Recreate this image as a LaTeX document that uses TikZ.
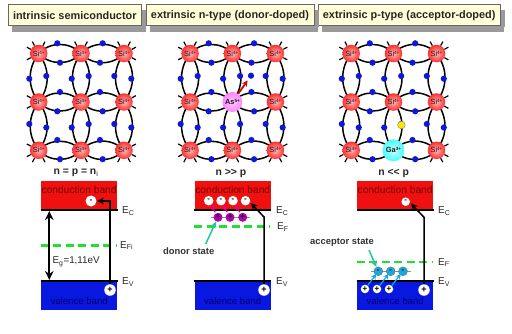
\documentclass[tikz,border=0pt]{standalone}
\usepackage{fontspec}
\setmainfont{Liberation Sans}
\usetikzlibrary{arrows.meta,backgrounds,calc}
\definecolor{hdrfill}{HTML}{FFFFD8}
\definecolor{shadowgrey}{HTML}{9A9A9A}
\definecolor{bandred}{HTML}{F01010}
\definecolor{bandblue}{HTML}{0818E0}
\definecolor{bonddot}{HTML}{1018D8}
\definecolor{fermi}{HTML}{20E030}
\definecolor{teal}{HTML}{20C8A0}
\definecolor{valtext}{HTML}{000070}
\newcommand\chg[1]{\raisebox{2pt}{\fontsize{4.6}{5}\selectfont #1}}
\tikzset{
  x=1pt,y=-1pt,
  header/.style={draw=black!60,line width=.7pt,fill=hdrfill,inner sep=0pt,minimum height=21pt,
    font=\fontsize{10.9}{12}\selectfont\bfseries,text=black!85},
  hshadow/.style={fill=shadowgrey,draw=none,inner sep=0pt,anchor=north west},
  si/.style={circle,draw=none,inner sep=0pt,minimum size=17.5pt,
    inner color=red!28!white,outer color=red!82,
    font=\fontsize{7.4}{8}\selectfont,text=black!90},
  arsenic/.style={circle,draw=none,inner sep=0pt,minimum size=20pt,
    inner color=magenta!22!white,outer color=magenta!48!white,
    font=\fontsize{7.4}{8}\selectfont\bfseries,text=black!90},
  gallium/.style={circle,draw=none,inner sep=0pt,minimum size=22pt,
    inner color=cyan!22!white,outer color=cyan!72!white,
    font=\fontsize{7.4}{8}\selectfont\bfseries,text=black!90},
  bond/.style={draw=black,line width=1.5pt},
  spike/.style={draw=black,line width=1.2pt},
  bdot/.style={circle,fill=bonddot,inner sep=0pt,minimum size=6.2pt},
  cond/.style={draw=none,fill=bandred,inner sep=0pt,minimum width=76.5pt,minimum height=30.5pt},
  val/.style={draw=none,fill=bandblue,inner sep=0pt,minimum width=76.5pt,minimum height=30.5pt},
  condlabel/.style={font=\fontsize{10.2}{12}\selectfont,text=red!45!black,inner sep=0pt},
  vallabel/.style={font=\fontsize{9.6}{12}\selectfont,text=valtext,inner sep=0pt},
  edge/.style={draw=black,line width=2pt},
  level/.style={draw=fermi,line width=2.6pt,dash pattern=on 8pt off 4.5pt},
  elec/.style={circle,fill=white,inner sep=0pt,minimum size=#1,font=\fontsize{8}{8}\selectfont\bfseries,text=black},
  hole/.style={circle,fill=white,inner sep=0pt,minimum size=#1,font=\fontsize{9}{9}\selectfont\bfseries,text=black},
  eng/.style={font=\fontsize{10}{12}\selectfont,inner sep=0pt,anchor=west,text=black!85},
  carrier/.style={font=\fontsize{10.4}{12}\selectfont\bfseries,inner sep=0pt,text=black!85},
  note/.style={font=\fontsize{9.4}{12}\selectfont\bfseries,inner sep=0pt,text=black!80},
  transit/.style={draw=black,line width=1.5pt,-{Stealth[length=7pt,width=6.5pt]}},
  state/.style={draw=black!45,line width=.6pt},
  donor/.style={circle,fill=violet!60!magenta,inner sep=0pt,minimum size=9pt,font=\fontsize{8.5}{8}\selectfont\bfseries,text=black},
  acceptor/.style={circle,draw=black!60,line width=.3pt,fill=cyan!70!teal,inner sep=0pt,minimum size=9pt,font=\fontsize{8}{8}\selectfont\bfseries,text=black},
  pointer/.style={draw=teal,line width=1.5pt,-{Stealth[length=6pt,width=5.5pt]}},
}
% Silicon lattice: #1 name prefix, #2 horizontal shift, #3 replaced site (row and column digits),
% #4 style of that site, #5 its label
\newcommand\crystal[5]{%
  \begin{scope}[xshift=#2pt]
    \foreach \r/\y in {1/53.5,2/102,3/150.3}{
      \foreach \c/\x in {1/38.7,2/81,3/124}{
        \ifnum\r\c=#3\relax
          \node[#4] (#1\r\c) at (\x,\y) {#5};
        \else
          \node[si] (#1\r\c) at (\x,\y) {Si\chg{4+}};
          \ifnum\r=1 \foreach \a in {62,118}{\draw[spike] (#1\r\c.\a) -- ++(\a:4.5pt);}\fi
          \ifnum\r=3 \foreach \a in {242,298}{\draw[spike] (#1\r\c.\a) -- ++(\a:4.5pt);}\fi
          \ifnum\c=1 \foreach \a in {152,208}{\draw[spike] (#1\r\c.\a) -- ++(\a:4.5pt);}\fi
          \ifnum\c=3 \foreach \a in {28,332}{\draw[spike] (#1\r\c.\a) -- ++(\a:4.5pt);}\fi
        \fi
      }
    }
    \begin{scope}[on background layer]
      \foreach \r in {1,2,3}{
        \draw[bond] (#1\r1.center) to[bend left=47] (#1\r2.center) to[bend left=47] (#1\r1.center);
        \draw[bond] (#1\r2.center) to[bend left=47] (#1\r3.center) to[bend left=47] (#1\r2.center);
      }
      \foreach \c in {1,2,3}{
        \draw[bond] (#11\c.center) to[bend left=37] (#12\c.center) to[bend left=37] (#11\c.center);
        \draw[bond] (#12\c.center) to[bend left=37] (#13\c.center) to[bend left=37] (#12\c.center);
      }
    \end{scope}
    \foreach \px/\py [count=\i] in {
      57.3/43.3,60/62.7,102.7/43.3,100/62.7,
      29.3/78.7,46.3/76,71.7/78.7,88.7/76,114.3/76,131.3/78.7,
      60/92,57.3/111.3,100/92,102.7/111.3,
      29.3/124,46.3/127.5,71.7/127.5,88.7/124,114.3/124,131.3/127.5,
      57.3/140,60/159.2,100/140,102.7/159.2}{
      \node[bdot] (#1d\i) at (\px,\py) {};
    }
  \end{scope}
}
% Energy band pair: #1 name suffix, #2 left edge of the bands
\newcommand\bandpair[2]{%
  \node[cond,anchor=north west] (cb#1) at (#2,180.3) {};
  \node[val,anchor=north west] (vb#1) at (#2,279.7) {};
  \draw[edge] ($(cb#1.south west)+(0,1pt)$) -- ($(cb#1.south east)+(0,1pt)$);
  \draw[edge] ($(vb#1.north west)+(0,-1pt)$) -- ($(vb#1.north east)+(0,-1pt)$);
  \node[condlabel] (cbt#1) at ($(cb#1.north)+(0,-9.7pt)$) {conduction band};
  \node[vallabel] (vbt#1) at ($(vb#1.north)+(0,-21.3pt)$) {valence band};
}
% Offset shadow of a heading, as a strip below and a strip to the right: #1 heading name, #2 its width
\newcommand\headshadow[2]{%
  \node[hshadow,minimum width=#2pt,minimum height=6pt] (#1b) at ($(#1.south west)+(4pt,.3pt)$) {};
  \node[hshadow,minimum width=4.2pt,minimum height=16.5pt] (#1r) at ($(#1.north east)+(0pt,-5.5pt)$) {};
}
\begin{document}
\begin{tikzpicture}
\useasboundingbox (0,0) rectangle (512,333);

% Column headings
\node[header,minimum width=133.7pt] (h1) at (74.8,15.3) {intrinsic semiconductor};
\node[header,minimum width=168pt] (h2) at (230,15.3) {extrinsic n-type (donor-doped)};
\node[header,minimum width=181.7pt] (h3) at (409.2,15.3) {extrinsic p-type (acceptor-doped)};

% Crystal lattices
\crystal{a}{0}{0}{si}{}
\crystal{b}{151.4}{22}{arsenic}{As\chg{5+}}
\crystal{c}{312.5}{32}{gallium}{Ga\chg{3+}}

% Freed electron at the arsenic site
\node[bdot] (free) at (251,75.7) {};
\draw[draw=red!85!black,line width=1.8pt,-{Stealth[length=6pt,width=6pt]},shorten >=2.5pt] (b22) -- (free);
% Missing electron at the gallium site
\node[circle,draw=black!50,line width=.4pt,fill=yellow!90!orange,inner sep=0pt,minimum size=7.6pt] (gap) at (401.4,125) {};

% Carrier relations
\node[carrier] (n1) at (76,173) {n = p = n$_{\mathrm i}$};
\node[carrier] (n2) at (231,173) {n >{}> p};
\node[carrier] (n3) at (393.7,173) {n <{}< p};

% Intrinsic bands
\bandpair{1}{40.7}
\draw[level] (40.7,245.3) -- (117,245.3);
\coordinate (gt) at (49.3,211);
\coordinate (gb) at (49.3,280);
\draw[draw=black,line width=1.7pt,{Stealth[length=9pt,width=8.5pt]}-{Stealth[length=9pt,width=8.5pt]}] (gt) -- (gb);
\node[eng,font=\fontsize{9.8}{12}\selectfont] (eg) at (52.5,261.7) {E$_{\mathrm g}$=1,11eV};
\node[elec=11pt] (e1) at (91,201) {-};
\node[hole=11.5pt] (p1) at (110,290) {+};
\draw[transit] (p1.north) |- (e1.east);
\node[eng] (ec1) at (122,211) {E$_{\mathrm C}$};
\node[eng] (ef1) at (120,245.5) {E$_{\mathrm{Fi}}$};
\node[eng] (ev1) at (122,282) {E$_{\mathrm V}$};

% Donor-doped bands
\bandpair{2}{194.3}
\draw[level] (194.3,226.7) -- (270,226.7);
\coordinate (sl) at (210.7,217.3);
\coordinate (sr) at (250,217.3);
\draw[state] (sl) -- (sr);
\foreach \i/\x in {1/208.7,2/221,3/233,4/245.5}{\node[elec=9.5pt] (en\i) at (\x,200.7) {-};}
\foreach \i/\x in {1/218,2/230,3/242.7}{\node[donor] (dn\i) at (\x,217.3) {+};}
\foreach \i in {1,2,3}{\draw[draw=magenta,line width=1.2pt,-{Stealth[length=5pt,width=5pt]},shorten <=1pt,shorten >=0.5pt] (dn\i) -- (en\i);}
\node[hole=11.5pt] (p2) at (264,290) {+};
\coordinate (k2) at (264,217);
\coordinate (t2) at (250.7,203);
\draw[transit] (p2.north) -- (k2) -- (t2);
\node[note] (dst) at (188.7,250.7) {donor state};
\coordinate (ds0) at (205.7,244);
\draw[pointer] (ds0) -- (dn1);
\node[eng] (ec2) at (276,211) {E$_{\mathrm C}$};
\node[eng] (ef2) at (277,227) {E$_{\mathrm F}$};
\node[eng] (ev2) at (276,282) {E$_{\mathrm V}$};

% Acceptor-doped bands
\bandpair{3}{356.7}
\draw[level] (356.7,262) -- (432,262);
\coordinate (ql) at (370.7,271.3);
\coordinate (qr) at (411,271.3);
\draw[state] (ql) -- (qr);
\foreach \i/\x in {1/378.3,2/390.7,3/403}{\node[acceptor] (an\i) at (\x,271.3) {-};}
\foreach \i/\x in {1/365,2/377,3/389}{
  \node[hole=8.5pt,font=\fontsize{8}{8}\selectfont\bfseries] (ph\i) at (\x,289) {+};
  \draw[draw=cyan!75!teal,line width=1.2pt,-{Stealth[length=5pt,width=5.5pt]},shorten >=-1pt] (ph\i) -- (an\i);
}
\node[elec=8.5pt] (e3) at (405.7,201.7) {-};
\node[hole=11.5pt] (p3) at (424,290) {+};
\coordinate (k3) at (424,217.3);
\coordinate (t3) at (410.7,203.3);
\draw[transit] (p3.north) -- (k3) -- (t3);
\node[note] (ast) at (342,242.3) {acceptor state};
\coordinate (as0) at (369,250);
\draw[pointer] (as0) -- (an1);
\node[eng] (ec3) at (438,211) {E$_{\mathrm C}$};
\node[eng] (ef3) at (438,262.5) {E$_{\mathrm F}$};
\node[eng] (ev3) at (438,282) {E$_{\mathrm V}$};

% Heading shadows
\headshadow{h1}{133.7}
\headshadow{h2}{168}
\headshadow{h3}{181.7}
\end{tikzpicture}
\end{document}
